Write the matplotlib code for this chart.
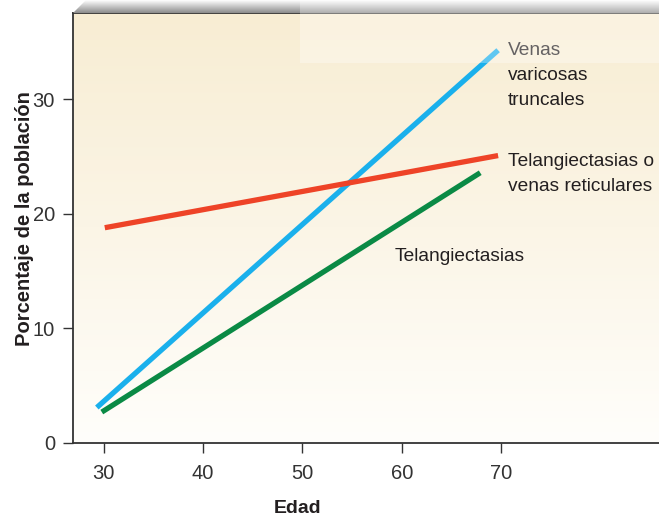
import numpy as np
import matplotlib
matplotlib.use("Agg")
import matplotlib.pyplot as plt
from matplotlib.colors import LinearSegmentedColormap
from matplotlib.patches import Polygon, Rectangle

plt.rcParams['font.family'] = ['Liberation Sans', 'DejaVu Sans']

# Data
edad_truncales = [29.3, 69.7]
pct_truncales = [3.1, 34.3]
edad_reticulares = [30.1, 69.7]
pct_reticulares = [18.8, 25.1]
edad_telang = [29.8, 67.9]
pct_telang = [2.7, 23.6]

xticks = [30, 40, 50, 60, 70]
yticks = [0, 10, 20, 30]

W, H = 659, 516
fig = plt.figure(figsize=(W / 100, H / 100), dpi=100)
ax = fig.add_axes([73 / W, 73 / H, 586 / W, 430 / H])

# beige -> white background gradient
bg = LinearSegmentedColormap.from_list("bg", ["#fffefb", "#fbf5e6", "#f8edd3"])
grad = np.linspace(0, 1, 256).reshape(-1, 1)
ax.imshow(grad, cmap=bg, aspect="auto", extent=[0, 1, 0, 1], origin="lower",
          transform=ax.transAxes, zorder=0)

lw = 3.8
ax.plot(edad_truncales, pct_truncales, color="#1ab0ec", lw=lw, solid_capstyle="butt", zorder=3)
ax.plot(edad_reticulares, pct_reticulares, color="#ee4327", lw=lw, solid_capstyle="butt", zorder=3)
ax.plot(edad_telang, pct_telang, color="#0a8a45", lw=lw, solid_capstyle="butt", zorder=3)

txt = dict(fontsize=13.8, color="#231f20", linespacing=1.6, zorder=4)
ax.text(70.7, 35.0, "Venas\nvaricosas\ntruncales", va="top", ha="left", **txt)
ax.text(70.7, 25.3, "Telangiectasias o\nvenas reticulares", va="top", ha="left", **txt)
ax.text(59.3, 16.3, "Telangiectasias", va="center", ha="left", **txt)

ax.set_xlim(26.9, 85.9)
ax.set_ylim(0, 37.55)
ax.set_xticks(xticks)
ax.set_yticks(yticks)
ax.tick_params(direction="out", length=7, width=1, color="#333333",
               labelsize=14.5, labelcolor="#333333")
ax.tick_params(axis="x", pad=8)
ax.tick_params(axis="y", pad=6)
for s in ["left", "bottom", "top"]:
    ax.spines[s].set_color("#333333")
    ax.spines[s].set_linewidth(1.3)
ax.spines["right"].set_visible(False)

ax.set_xlabel("Edad", fontsize=14, fontweight="bold", color="#231f20")
ax.xaxis.set_label_coords(0.384, -0.132)
ax.set_ylabel("Porcentaje de la población", fontsize=14.5, fontweight="bold",
              color="#231f20")
ax.yaxis.set_label_coords(-0.066, 0.521)

# overlay for the grey top bevel and the pale box at top right
ov = fig.add_axes([0, 0, 1, 1])
ov.set_xlim(0, W)
ov.set_ylim(H, 0)
ov.axis("off")
ov.patch.set_alpha(0)
shade = LinearSegmentedColormap.from_list("shade", ["#ffffff", "#8c8c8c"])
img = ov.imshow(np.linspace(0, 1, 64).reshape(-1, 1), cmap=shade, aspect="auto",
                extent=[0, W, 13, 0], zorder=1)
bevel = Polygon([(73, 13), (86, 0), (W, 0), (W, 13)], closed=True,
                facecolor="none", edgecolor="none")
ov.add_patch(bevel)
img.set_clip_path(bevel)
ov.add_patch(Rectangle((300, 0), W - 300, 63, facecolor="white", alpha=0.3,
                       edgecolor="none", zorder=2))
ov.set_xlim(0, W)
ov.set_ylim(H, 0)

fig.savefig("out.png", dpi=100)
